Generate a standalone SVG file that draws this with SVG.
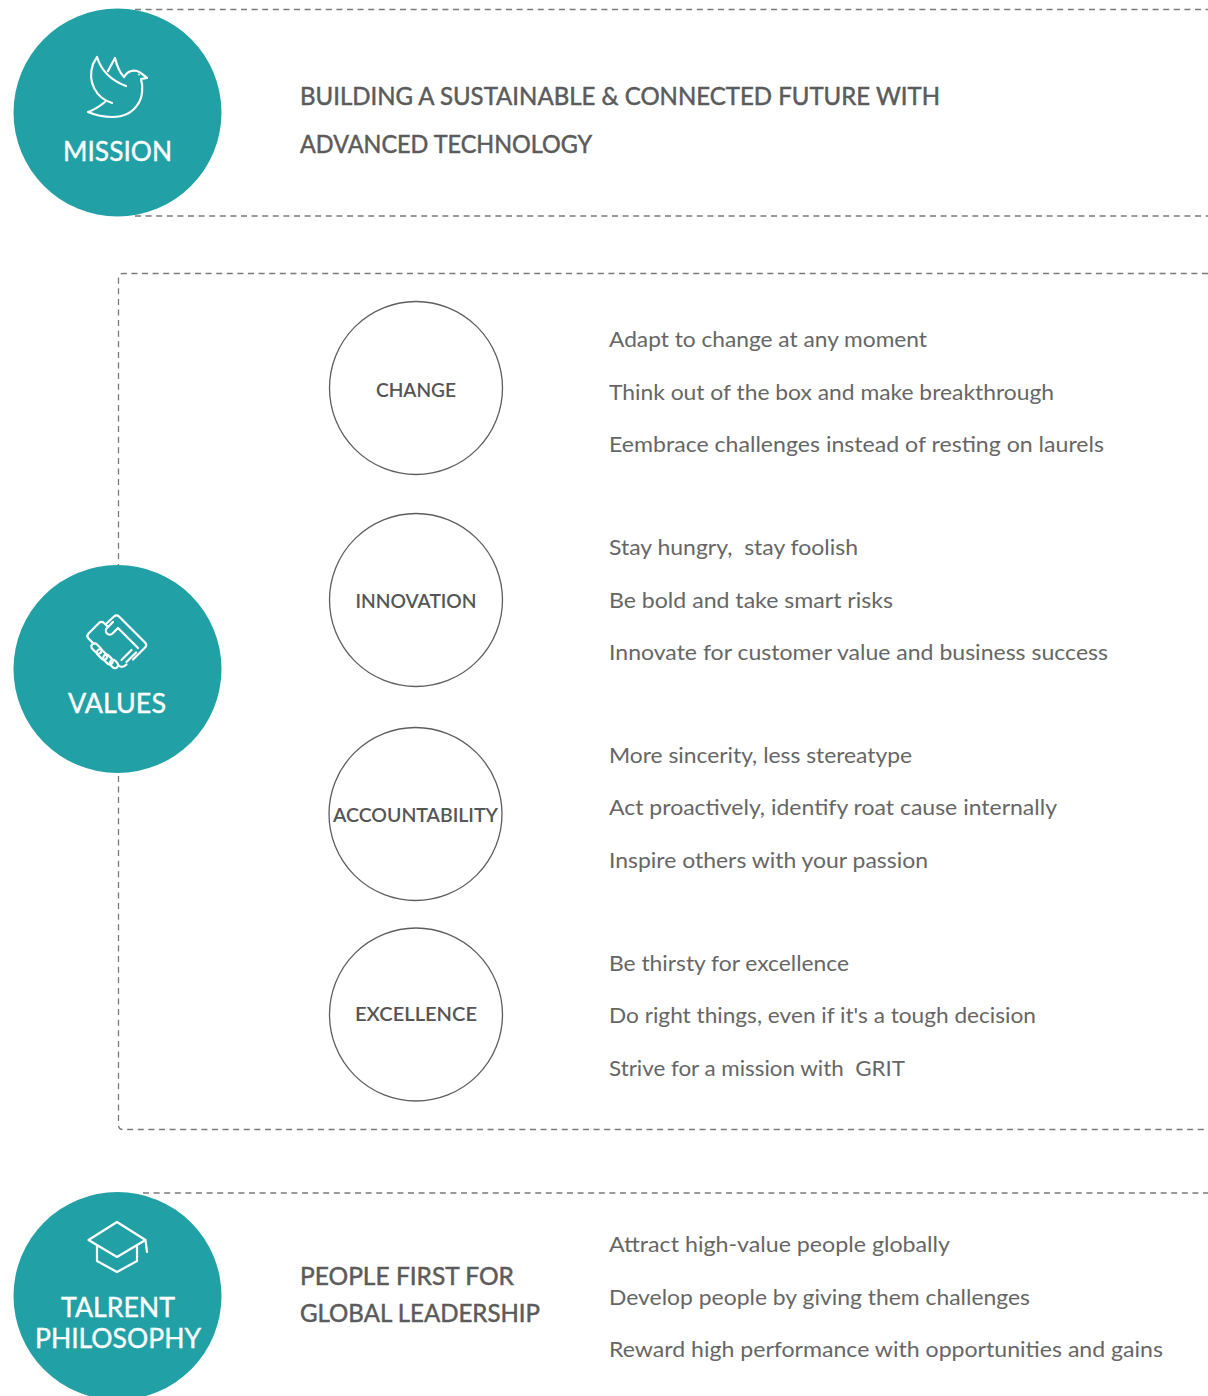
<svg xmlns="http://www.w3.org/2000/svg" width="1208" height="1396" viewBox="0 0 1208 1396">
<style>
.dash{fill:none;stroke:#7a7a7a;stroke-width:1.3;stroke-dasharray:6 4.6}
.big{fill:#21a1a6}
.ring{fill:#fff;stroke:#5e5e5e;stroke-width:1.3}
.ico{fill:none;stroke:#fff;stroke-width:2.2;stroke-linecap:round;stroke-linejoin:round}
.lbl{font-family:Lato,"Liberation Sans",sans-serif;fill:#fff;stroke:#fff;stroke-width:0.4;font-size:27px}
.hd{font-family:Lato,"Liberation Sans",sans-serif;fill:#5b5b5b;stroke:#5b5b5b;stroke-width:0.5;font-size:25px}
.cl{font-family:Lato,"Liberation Sans",sans-serif;fill:#555;font-size:20px;font-weight:600;text-anchor:middle}
.tx{font-family:Lato,"Liberation Sans",sans-serif;fill:#666;font-size:21px}
</style>
<rect width="1208" height="1396" fill="#fff"/>
<g id="connectors">
<line class="dash" x1="135" y1="9.5" x2="1208" y2="9.5"/>
<line class="dash" x1="135" y1="216" x2="1208" y2="216"/>
<path class="dash" d="M1208,273.5 H123 Q118.5,273.5 118.5,278 V1125 Q118.5,1129.5 123,1129.5 H1208"/>
<line class="dash" x1="143" y1="1193" x2="1208" y2="1193"/>
</g>
<g id="mission">
<circle class="big" cx="117.5" cy="112.5" r="104"/>
<path class="ico" d="M112,103 C96,98 87,82 93,64 L97,57 C101,70 110,80 126,86 M108,71 L115,58 C117,66 119,72 124,77 M124,77 C127,72 132,70 137,71 C141,72 143,75 147,78 L141,79 C143,86 143,97 138,104 C133,112 124,117 112,117 C103,117 95,115 88,112 C94,110 100,106 105,102"/>
<circle cx="139" cy="74.5" r="0.9" fill="#fff"/>
<text class="lbl" x="63" y="161" textLength="109" lengthAdjust="spacingAndGlyphs">MISSION</text>
</g>
<g id="mission-text">
<text class="hd" x="300" y="105" textLength="640" lengthAdjust="spacingAndGlyphs">BUILDING A SUSTAINABLE &amp; CONNECTED FUTURE WITH</text>
<text class="hd" x="300" y="153" textLength="292" lengthAdjust="spacingAndGlyphs">ADVANCED TECHNOLOGY</text>
</g>
<g id="values">
<circle class="big" cx="117.5" cy="669" r="104"/>
<path class="ico" d="M107,623 L114,616.5 C115.5,615 117.5,615 119,616.5 L145,642.5 C146.5,644 146.5,646 145,647.5 L133,659.5 M113,622 L107,628 C105.5,629.5 105.5,632 107,633.5 C108.5,635 111,635 112.5,633.5 L118,628 L138,648 M94,644 L88.5,638.5 C87,637 87,635 88.5,633.5 L99,623 C100.5,621.5 102.5,621.5 104,623 L107,626 M121.5,660 L131.5,650 M126.5,662 L136,652.5 M118.5,665.5 C121,667.5 124,667 126.5,664.5"/>
<rect class="ico" x="-3.2" y="-6" width="6.4" height="12" rx="3.2" transform="translate(96.5,648.5) rotate(-45)"/>
<rect class="ico" x="-3.2" y="-6" width="6.4" height="12" rx="3.2" transform="translate(102,654.5) rotate(-45)"/>
<rect class="ico" x="-3.2" y="-5.5" width="6.4" height="11" rx="3.2" transform="translate(108,659.5) rotate(-45)"/>
<rect class="ico" x="-3.2" y="-4.5" width="6.4" height="9" rx="3.2" transform="translate(114,664) rotate(-45)"/>
<text class="lbl" x="68" y="713" textLength="98" lengthAdjust="spacingAndGlyphs">VALUES</text>
</g>
<g id="change">
<circle class="ring" cx="416" cy="388" r="86.5"/>
<text class="cl" x="416" y="397" textLength="80" lengthAdjust="spacingAndGlyphs">CHANGE</text>
</g>
<g id="change-text">
<text class="tx" x="609" y="347" textLength="318" lengthAdjust="spacingAndGlyphs">Adapt to change at any moment</text>
<text class="tx" x="609" y="400" textLength="445" lengthAdjust="spacingAndGlyphs">Think out of the box and make breakthrough</text>
<text class="tx" x="609" y="452" textLength="495" lengthAdjust="spacingAndGlyphs">Eembrace challenges instead of resting on laurels</text>
</g>
<g id="innovation">
<circle class="ring" cx="416" cy="600" r="86.5"/>
<text class="cl" x="416" y="608" textLength="121" lengthAdjust="spacingAndGlyphs">INNOVATION</text>
</g>
<g id="innovation-text">
<text class="tx" x="609" y="555" textLength="249" lengthAdjust="spacingAndGlyphs" xml:space="preserve">Stay hungry,  stay foolish</text>
<text class="tx" x="609" y="608" textLength="284" lengthAdjust="spacingAndGlyphs">Be bold and take smart risks</text>
<text class="tx" x="609" y="660" textLength="499" lengthAdjust="spacingAndGlyphs">Innovate for customer value and business success</text>
</g>
<g id="accountability">
<circle class="ring" cx="415.5" cy="814" r="86.5"/>
<text class="cl" x="415.5" y="822" textLength="165" lengthAdjust="spacingAndGlyphs">ACCOUNTABILITY</text>
</g>
<g id="accountability-text">
<text class="tx" x="609" y="763" textLength="303" lengthAdjust="spacingAndGlyphs">More sincerity, less stereatype</text>
<text class="tx" x="609" y="815" textLength="448" lengthAdjust="spacingAndGlyphs">Act proactively, identify roat cause internally</text>
<text class="tx" x="609" y="868" textLength="319" lengthAdjust="spacingAndGlyphs">Inspire others with your passion</text>
</g>
<g id="excellence">
<circle class="ring" cx="416" cy="1014.5" r="86.5"/>
<text class="cl" x="416" y="1021" textLength="122" lengthAdjust="spacingAndGlyphs">EXCELLENCE</text>
</g>
<g id="excellence-text">
<text class="tx" x="609" y="971" textLength="240" lengthAdjust="spacingAndGlyphs">Be thirsty for excellence</text>
<text class="tx" x="609" y="1023" textLength="427" lengthAdjust="spacingAndGlyphs">Do right things, even if it's a tough decision</text>
<text class="tx" x="609" y="1076" textLength="296" lengthAdjust="spacingAndGlyphs" xml:space="preserve">Strive for a mission with  GRIT</text>
</g>
<g id="talent">
<circle class="big" cx="117.5" cy="1296" r="104"/>
<path class="ico" d="M88.5,1240 L117,1222 L145.5,1240 L117,1257 Z M97,1245 V1261 L117,1272 L137,1261 V1246 M145.5,1240 L147,1252"/>
<text class="lbl" x="61" y="1317" textLength="114" lengthAdjust="spacingAndGlyphs">TALRENT</text>
<text class="lbl" x="35" y="1348" textLength="166" lengthAdjust="spacingAndGlyphs">PHILOSOPHY</text>
</g>
<g id="talent-text">
<text class="hd" x="300" y="1285" textLength="214" lengthAdjust="spacingAndGlyphs">PEOPLE FIRST FOR</text>
<text class="hd" x="300" y="1322" textLength="240" lengthAdjust="spacingAndGlyphs">GLOBAL LEADERSHIP</text>
<text class="tx" x="609" y="1252" textLength="341" lengthAdjust="spacingAndGlyphs">Attract high-value people globally</text>
<text class="tx" x="609" y="1305" textLength="421" lengthAdjust="spacingAndGlyphs">Develop people by giving them challenges</text>
<text class="tx" x="609" y="1357" textLength="554" lengthAdjust="spacingAndGlyphs">Reward high performance with opportunities and gains</text>
</g>
</svg>
